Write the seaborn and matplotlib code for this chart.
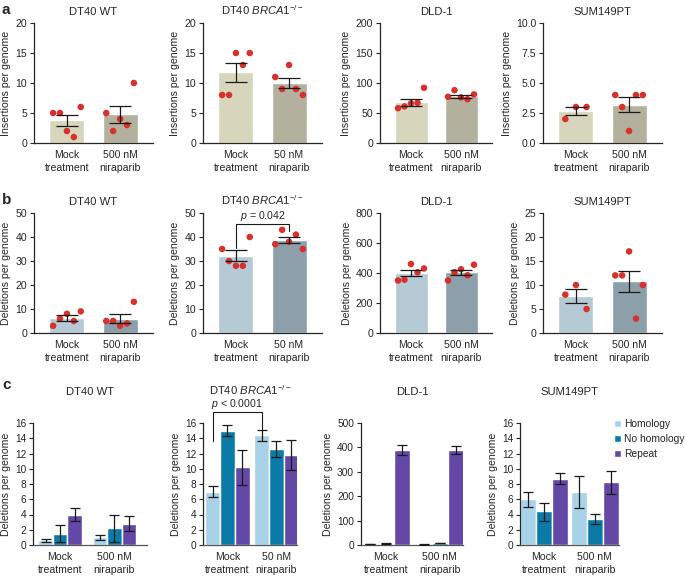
import numpy as np
import pandas as pd
import matplotlib
matplotlib.use("Agg")
import matplotlib.pyplot as plt
import seaborn as sns

sns.set_theme(style="ticks")
plt.rcParams['font.family'] = ['Liberation Sans', 'DejaVu Sans']
plt.rcParams['mathtext.fontset'] = 'custom'
plt.rcParams['mathtext.rm'] = 'Liberation Sans'
plt.rcParams['mathtext.it'] = 'Liberation Sans:italic'
plt.rcParams['axes.linewidth'] = 0.9

# ---------------- data ----------------
cells = ["DT40 WT", r"DT40 $\mathit{BRCA1}^{-/-}$", "DLD-1", "SUM149PT"]
conds = [["Mock\ntreatment", "500 nM\nniraparib"],
         ["Mock\ntreatment", "50 nM\nniraparib"],
         ["Mock\ntreatment", "500 nM\nniraparib"],
         ["Mock\ntreatment", "500 nM\nniraparib"]]

# a: insertions
ins_mean = [[3.8, 4.8], [11.8, 10.0], [68, 78], [2.67, 3.2]]
ins_lo = [[2.8, 3.4], [10.2, 9.1], [62, 75], [2.35, 2.6]]
ins_hi = [[4.7, 6.2], [13.4, 10.9], [74, 80], [3.0, 3.8]]
ins_pts_mock = [[5, 5, 2, 1, 6], [8, 8, 15, 13, 15], [58, 61, 66, 67, 92], [2, 3, 3]]
ins_pts_drug = [[5, 2, 4, 3, 10], [11, 9, 13, 9, 8], [77, 88, 76, 73, 81], [4, 3, 1, 4, 4]]
ins_ylim = [20, 20, 200, 10]
ins_ystep = [5, 5, 50, 2.5]

# b: deletions
del_mean = [[6.2, 6.0], [32.2, 38.8], [400, 404], [7.67, 10.8]]
del_lo = [[5.0, 4.3], [29.8, 37.5], [380, 390], [6.2, 8.5]]
del_hi = [[7.4, 7.8], [34.5, 40.2], [420, 418], [9.1, 13.0]]
del_pts_mock = [[3, 6, 8, 5, 9], [35, 30, 28, 28, 40], [350, 355, 460, 405, 430], [8, 10, 5]]
del_pts_drug = [[5, 5, 3, 4, 13], [37, 43, 38, 41, 35], [350, 405, 425, 385, 455], [12, 12, 17, 3, 10]]
del_ylim = [50, 50, 800, 25]
del_ystep = [10, 10, 200, 5]

# c: deletion types  [cell][type][condition]
types = ["Homology", "No homology", "Repeat"]
typ_mean = [[[0.6, 1.0], [1.5, 2.2], [4.0, 2.8]],
            [[7.0, 14.4], [15.0, 12.6], [10.2, 11.8]],
            [[4, 3], [6, 8], [388, 388]],
            [[6.0, 7.0], [4.4, 3.4], [8.7, 8.2]]]
typ_lo = [[[0.35, 0.7], [0.4, 0.45], [3.2, 1.85]],
          [[6.3, 13.7], [14.3, 11.6], [7.9, 9.8]],
          [[3, 2], [5, 7], [368, 372]],
          [[5.0, 4.9], [3.2, 2.8], [8.0, 6.7]]]
typ_hi = [[[0.85, 1.3], [2.65, 3.9], [4.8, 3.8]],
          [[7.7, 15.1], [15.7, 13.6], [12.5, 13.8]],
          [[5, 4], [7, 9], [408, 405]],
          [[7.0, 9.1], [5.5, 4.1], [9.4, 9.7]]]
typ_ylim = [16, 16, 500, 16]
typ_ystep = [2, 2, 100, 2]

# ---------------- style ----------------
W, H = 686, 576
fig = plt.figure(figsize=(W / 100, H / 100), dpi=100)

col_ins = ["#d8d5bd", "#b3b09d"]
col_del = ["#b6cad6", "#8c9faa"]
col_dot = "#d8302a"
col_typ = ["#a7d2e8", "#0a7aa6", "#6448a6"]
FS = 7.6

def px_axes(x0, x1, y0, y1):
    return fig.add_axes([x0 / W, 1 - y1 / H, (x1 - x0) / W, (y1 - y0) / H])

xs_ab = [(34, 153), (203, 322), (380, 492), (543, 662)]
xs_c = [(33, 147), (203, 297), (361, 463), (520, 619)]


def fmt_tick(v, step):
    if step < 1 or (step % 1) != 0:
        return f"{v:.1f}"
    return f"{int(round(v))}"


def dot_panel(ax, i, title, labels, mean, lo, hi, pm, pd_, colors, ymax, ystep, ylabel):
    df = pd.DataFrame({"cond": labels, "val": mean})
    sns.barplot(data=df, x="cond", y="val", hue="cond", palette=colors,
                width=0.66, legend=False, ax=ax, saturation=1, errorbar=None)
    mean = np.array(mean); lo = np.array(lo); hi = np.array(hi)
    for k, pts in enumerate([pm, pd_]):
        offs = [-0.26, -0.13, 0, 0.13, 0.26] if len(pts) == 5 else [-0.2, 0, 0.2]
        sns.scatterplot(x=k + np.array(offs), y=pts, color=col_dot, s=22,
                        edgecolor="none", ax=ax, zorder=4)
    ax.errorbar([0, 1], mean, yerr=[mean - lo, hi - mean], fmt="none",
                ecolor="#1a1a1a", elinewidth=0.9, capsize=8, capthick=0.9, zorder=5)
    ax.set_xlim(-0.62, 1.62)
    ax.set_ylim(0, ymax)
    ticks = np.arange(0, ymax + ystep / 2, ystep)
    ax.set_yticks(ticks)
    ax.set_yticklabels([fmt_tick(t, ystep) for t in ticks])
    ax.set_xlabel("")
    ax.set_ylabel(ylabel, fontsize=FS, labelpad=3)
    ax.set_title(title, fontsize=FS + 0.5, pad=6)
    ax.tick_params(axis="x", length=0, labelsize=FS, pad=5)
    ax.tick_params(axis="y", length=3, width=0.8, labelsize=FS, pad=2)
    for lab in ax.get_xticklabels():
        lab.set_linespacing(1.35)
    sns.despine(ax=ax)


for i in range(4):
    ax = px_axes(*xs_ab[i], 23, 143)
    dot_panel(ax, i, cells[i], conds[i], ins_mean[i], ins_lo[i], ins_hi[i],
              ins_pts_mock[i], ins_pts_drug[i], col_ins, ins_ylim[i], ins_ystep[i],
              "Insertions per genome")

for i in range(4):
    ax = px_axes(*xs_ab[i], 213, 333)
    dot_panel(ax, i, cells[i], conds[i], del_mean[i], del_lo[i], del_hi[i],
              del_pts_mock[i], del_pts_drug[i], col_del, del_ylim[i], del_ystep[i],
              "Deletions per genome")
    if i == 1:
        ax.plot([0, 0, 1, 1], [35.5, 45.4, 45.4, 42.5], color="#1a1a1a", lw=0.8)
        ax.text(0.5, 48.6, r"$p$ = 0.042", ha="center", va="center", fontsize=FS)

widths_c = [0.8, 0.9, 0.9, 0.95]
xlims_c = [(-0.5, 1.6), (-0.5, 1.42), (-0.47, 1.43), (-0.48, 1.48)]
for i in range(4):
    ax = px_axes(*xs_c[i], 423, 545)
    rows = []
    for t in range(3):
        for c in range(2):
            rows.append({"cond": conds[i][c], "type": types[t], "val": typ_mean[i][t][c]})
    df = pd.DataFrame(rows)
    sns.barplot(data=df, x="cond", y="val", hue="type", hue_order=types,
                palette=col_typ, width=widths_c[i], ax=ax, saturation=1,
                errorbar=None, legend=(i == 3))
    bar_conts = list(ax.containers)
    centers = []
    for t, cont in enumerate(bar_conts):
        xs = [b.get_x() + b.get_width() / 2 for b in cont]
        centers.append(xs)
        m = np.array(typ_mean[i][t]); l = np.array(typ_lo[i][t]); h = np.array(typ_hi[i][t])
        ax.errorbar(xs, m, yerr=[m - l, h - m], fmt="none", ecolor="#1a1a1a",
                    elinewidth=0.9, capsize=3.5, capthick=0.9, zorder=5)
    ax.set_xlim(*xlims_c[i])
    ax.set_ylim(0, typ_ylim[i])
    ticks = np.arange(0, typ_ylim[i] + typ_ystep[i] / 2, typ_ystep[i])
    ax.set_yticks(ticks)
    ax.set_yticklabels([fmt_tick(t, typ_ystep[i]) for t in ticks])
    ax.set_xlabel("")
    ax.set_ylabel("Deletions per genome", fontsize=FS, labelpad=3)
    ax.set_title(cells[i], fontsize=FS + 0.5, pad=20)
    ax.tick_params(axis="x", length=0, labelsize=FS, pad=5)
    ax.tick_params(axis="y", length=3, width=0.8, labelsize=FS - 0.3, pad=2)
    for lab in ax.get_xticklabels():
        lab.set_linespacing(1.35)
    sns.despine(ax=ax)
    ax.spines["bottom"].set_color("#555555")
    if i == 1:
        x0, x1 = centers[0][0], centers[0][1]
        ax.plot([x0, x0, x1, x1], [13.7, 17.5, 17.5, 15.2], color="#1a1a1a",
                lw=0.8, clip_on=False)
        ax.text((x0 + x1) / 2, 18.5, r"$p$ < 0.0001", ha="center", va="center",
                fontsize=FS, clip_on=False)
    if i == 3:
        ax.legend(loc="upper right", bbox_to_anchor=(685 / W, 1 - 419 / H),
                  bbox_transform=fig.transFigure, frameon=False,
                  fontsize=FS - 0.2, handlelength=0.75, handleheight=0.75,
                  handletextpad=0.3, labelspacing=0.5, borderaxespad=0,
                  borderpad=0, title=None)

for letter, y in [("a", 10), ("b", 200), ("c", 385)]:
    fig.text(2 / W, 1 - y / H, letter, fontsize=11, fontweight="bold", va="center", ha="left")

fig.savefig("out.png", dpi=100)
